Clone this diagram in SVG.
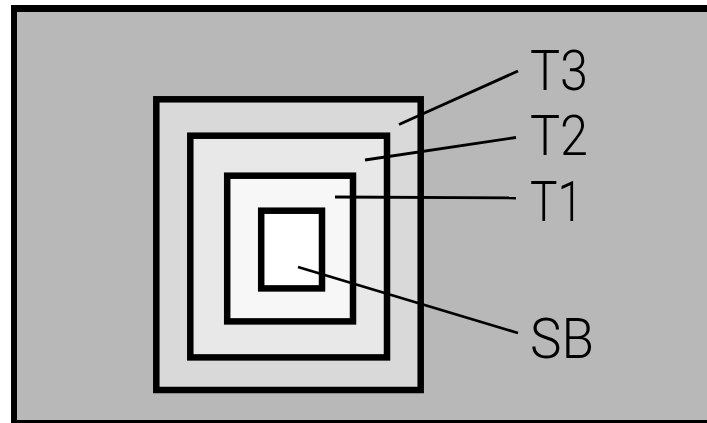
<svg xmlns="http://www.w3.org/2000/svg" width="707" height="423" viewBox="0 0 707 423">
<style>
.box{stroke:#000;stroke-width:6.5}
.lead{stroke:#000;stroke-width:2.8;fill:none}
.lbl{font-family:Roboto,"Liberation Sans",sans-serif;font-weight:300;font-size:56px;fill:#000}
</style>
<rect x="0" y="0" width="707" height="423" fill="#ffffff"/>
<rect x="11" y="5" width="696" height="418" fill="#000"/>
<rect x="17" y="12" width="690" height="408" fill="#b8b8b8"/>
<g id="T3"><rect class="box" x="156.3" y="99.3" width="264.4" height="290.7" fill="#d9d9d9"/></g>
<g id="T2"><rect class="box" x="190.3" y="135.7" width="196.7" height="221.7" fill="#e8e8e8"/></g>
<g id="T1"><rect class="box" x="227.2" y="175.7" width="125.8" height="145.7" fill="#f7f7f7"/></g>
<g id="SB"><rect class="box" x="261.2" y="210.7" width="60.8" height="77.7" fill="#ffffff"/></g>
<g id="connectors">
<line class="lead" x1="399" y1="124.5" x2="518" y2="71"/>
<line class="lead" x1="365" y1="160" x2="516" y2="137.5"/>
<line class="lead" x1="335" y1="197" x2="516" y2="198"/>
<line class="lead" x1="298" y1="267" x2="518" y2="333"/>
</g>
<g id="labels">
<text class="lbl" x="530" y="90" textLength="58" lengthAdjust="spacingAndGlyphs">T3</text>
<text class="lbl" x="530" y="155" textLength="58" lengthAdjust="spacingAndGlyphs">T2</text>
<text class="lbl" x="530" y="221" textLength="53" lengthAdjust="spacingAndGlyphs">T1</text>
<text class="lbl" x="530" y="358" textLength="64" lengthAdjust="spacingAndGlyphs">SB</text>
</g>
</svg>
